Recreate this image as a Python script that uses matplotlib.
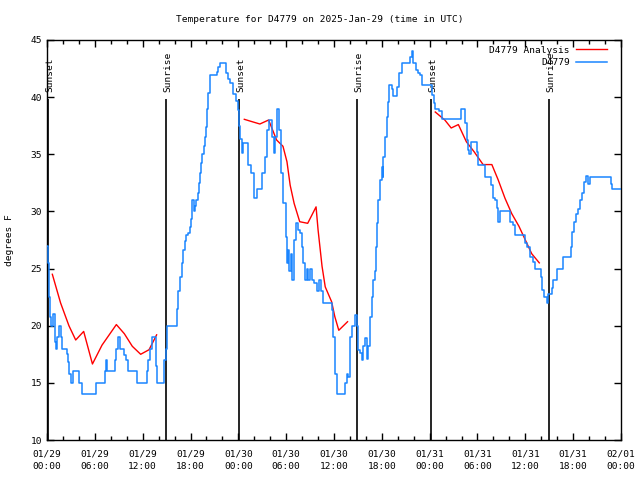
import numpy as np
import matplotlib
matplotlib.use("Agg")
import matplotlib.pyplot as plt
from matplotlib.ticker import MultipleLocator

# hours since 2025-01-29 00:00 UTC, observed temperature (step changes)
obs_hours = [0.0, 0.1, 0.25, 0.4, 0.55, 0.7, 0.95, 1.1, 1.25, 1.45, 1.7, 1.85, 2.5, 2.65, 2.8,
             3.0, 3.2, 4.05, 4.4, 6.2, 7.25, 7.4, 7.55, 8.5, 8.7, 8.95, 9.2, 9.7, 9.9, 10.1,
             11.3, 12.5, 12.7, 12.95, 13.2, 13.65, 13.85, 14.7, 14.9, 15.1,
             16.25, 16.45, 16.7, 16.9, 17.05, 17.3, 17.45, 17.7, 17.9, 18.05, 18.15, 18.4,
             18.6, 18.7, 18.95, 19.1, 19.2, 19.35, 19.45, 19.7, 19.85, 19.95, 20.05, 20.2,
             20.5, 21.3, 21.5, 21.7, 22.5, 22.7, 23.0, 23.3, 23.7, 24.0,
             24.1, 24.2, 24.42, 24.62, 25.25, 25.59, 26.0, 26.3, 27.0, 27.35, 27.56, 27.85,
             28.19, 28.47, 28.6, 28.81, 29.14, 29.35, 29.64, 29.94, 30.14, 30.27, 30.39,
             30.61, 30.77, 31.02, 31.23, 31.45, 31.74, 31.95, 32.15, 32.36, 32.58, 32.78,
             32.99, 33.2, 33.53, 33.83, 34.12, 34.37, 34.66, 35.71, 35.91, 36.13, 36.34,
             37.38, 37.59, 37.8, 38.01, 38.22, 38.63, 38.84, 39.05, 39.3, 39.47, 39.68,
             39.89, 40.1, 40.3, 40.52, 40.73, 40.93, 41.14, 41.27, 41.43, 41.56, 41.77,
             41.98, 42.11, 42.19, 42.4, 42.61, 42.74, 42.94, 43.24, 43.44, 43.87, 44.19,
             44.49, 45.53, 45.75, 45.95, 46.29, 46.58, 46.79, 47.0, 48.3, 48.5, 48.7,
             49.17, 49.51, 51.93, 52.43, 52.64, 52.84, 52.97, 53.18, 53.9, 54.1, 54.94,
             55.69, 55.9, 56.2, 56.41, 56.61, 56.82, 58.07, 58.49, 58.7, 59.96, 60.17,
             60.59, 61.0, 61.21, 61.97, 62.13, 62.38, 62.68, 62.88, 63.31, 63.51, 63.94,
             64.76, 65.69, 65.89, 66.11, 66.36, 66.65, 66.86, 67.07, 67.36, 67.57, 67.9,
             68.11, 70.71, 70.83, 72.0]
obs_temps = [27, 25.5, 22.5, 20.8, 20, 21, 18.6, 18, 19, 20, 19, 18, 17.5, 16.8, 15.8,
             15, 16, 15, 14, 15, 16, 17, 16, 17, 18, 19, 18, 17.4, 17, 16,
             15, 16, 17, 18, 19, 16.5, 15, 17, 18, 20,
             21.5, 23, 24.3, 25.5, 26.6, 27.4, 27.9, 28.1, 28.6, 29.3, 31, 30,
             30.5, 31, 31.6, 32.5, 33.4, 34.2, 35, 35.7, 36.5, 37.4, 39, 40.4,
             41.9, 42.2, 42.6, 43, 42.1, 41.6, 41.2, 40.3, 39.7, 38.9,
             37.5, 36.3, 35.1, 36, 34.1, 33.4, 31.2, 32, 33.4, 34.8, 37.1, 38,
             36.5, 35.1, 36.5, 39, 37.1, 33.4, 30.7, 27.8, 25.5, 26.6, 24.8,
             26.3, 24, 27.5, 29, 28.4, 28.1, 26.9, 25.5, 24, 25, 24,
             25, 24, 23.7, 23, 24, 23, 22, 21.4, 19, 15.8, 14,
             15, 15.8, 15.5, 19, 20, 20.9, 20, 17.9, 17.6, 17, 18.2,
             18.9, 17.1, 18.2, 20.8, 22.5, 24, 24.8, 26.9, 29, 31, 32.75,
             33.9, 33, 34.8, 36.5, 38.3, 39.6, 41.1, 40.7, 40.1, 40.9, 42.1,
             43, 43.5, 44, 43, 42.4, 42.1, 41.9, 41.1, 40.2, 39.5, 39,
             38.75, 38.1, 39, 37.7, 36.25, 35.4, 35, 36.05, 35.2, 34.1, 33,
             32.3, 31.15, 31, 30.3, 29.1, 30, 29.1, 28.8, 27.9, 27.2, 26.9,
             26, 25.6, 25, 24.3, 23.1, 22.5, 22, 22.8, 23.3, 24, 25,
             26, 26.9, 28.2, 29.1, 29.8, 30.2, 31, 31.6, 32.6, 33.1, 32.4,
             33, 32.4, 32, 32]

# analysis (red), nan splits the three overnight pieces
ana_hours = [0.67, 1.7, 2.75, 3.6, 4.6, 5.7, 6.9, 8.7, 9.7, 10.7, 11.75, 12.8, 13.75, np.nan,
             24.75, 25.5, 26.7, 27.8, 28.8, 29.6, 30.1, 30.5, 31.0, 31.7, 32.7, 33.75, 34.0,
             34.5, 34.9, 35.7, 36.1, 36.6, 37.7, np.nan,
             48.7, 49.3, 49.9, 50.7, 51.6, 52.6, 53.6, 54.7, 55.8, 56.6, 57.45, 58.3, 59.2,
             60.0, 60.8, 61.75]
ana_temps = [24.5, 22.0, 20.0, 18.75, 19.5, 16.65, 18.3, 20.1, 19.3, 18.2, 17.5, 17.9, 19.2, np.nan,
             38.06, 37.9, 37.65, 38.0, 36.25, 35.7, 34.35, 32.3, 30.7, 29.1, 28.96, 30.4, 28.4,
             25.2, 23.4, 22.1, 20.8, 19.6, 20.35, np.nan,
             38.7, 38.35, 38.0, 37.3, 37.6, 36.1, 35.2, 34.1, 34.1, 32.75, 31.15, 29.8, 28.7,
             27.5, 26.3, 25.5]

sun_hours = [0.1, 14.9, 24.1, 38.9, 48.2, 63.0]
sun_labels = ['Sunset', 'Sunrise', 'Sunset', 'Sunrise', 'Sunset', 'Sunrise']

tick_labels = ['01/29\n00:00', '01/29\n06:00', '01/29\n12:00', '01/29\n18:00',
               '01/30\n00:00', '01/30\n06:00', '01/30\n12:00', '01/30\n18:00',
               '01/31\n00:00', '01/31\n06:00', '01/31\n12:00', '01/31\n18:00',
               '02/01\n00:00']

plt.rcParams['font.family'] = 'DejaVu Sans Mono'
fs = 6.8

fig = plt.figure(figsize=(6.4, 4.8), dpi=100)
ax = fig.add_axes([47 / 640, 40 / 480, 574 / 640, 400 / 480])

# sunrise / sunset markers
for h, lab in zip(sun_hours, sun_labels):
    ax.vlines(h, 10, 39.8, color='black', lw=1.2, zorder=2)
    ax.text(h + 0.25, 40.45, lab, rotation=90, ha='center', va='bottom', fontsize=fs, zorder=2)

ax.plot(ana_hours, ana_temps, color='#ff0000', lw=1.0, label='D4779 Analysis', zorder=3)
ax.plot(obs_hours, obs_temps, color='#1a85ff', lw=1.1, drawstyle='steps-post', label='D4779', zorder=3)

ax.set_xlim(0, 72)
ax.set_ylim(10, 45)
ax.xaxis.set_major_locator(MultipleLocator(6))
ax.xaxis.set_minor_locator(MultipleLocator(2))
ax.yaxis.set_major_locator(MultipleLocator(5))
ax.set_xticks(np.arange(0, 73, 6))
ax.set_xticklabels(tick_labels, fontsize=fs, linespacing=1.5)
ax.tick_params(axis='both', which='major', direction='in', length=5, width=1,
               top=True, right=True, labelsize=fs)
ax.tick_params(axis='x', which='minor', direction='in', length=3, width=1, top=True)
ax.tick_params(axis='x', which='major', pad=7)
for s in ax.spines.values():
    s.set_linewidth(1.0)

leg = ax.legend(loc='upper right', frameon=False, fontsize=fs, markerfirst=False,
                handlelength=3.3, handletextpad=0.6, labelspacing=0.35,
                borderaxespad=0.2, bbox_to_anchor=(0.985, 1.0))
for t in leg.get_texts():
    t.set_ha('right')

fig.text(0.5, 1 - 20 / 480, 'Temperature for D4779 on 2025-Jan-29 (time in UTC)',
         ha='center', va='center', fontsize=fs)
fig.text(10 / 640, 0.5, 'degrees F', rotation=90, ha='center', va='center', fontsize=fs)

fig.savefig('out.png', dpi=100)
